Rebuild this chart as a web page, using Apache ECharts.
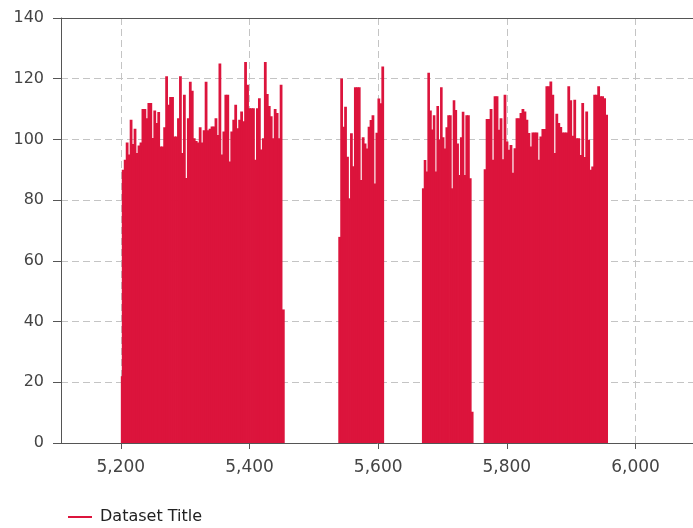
<!DOCTYPE html>
<html>
<head>
<meta charset="utf-8">
<script src="https://cdn.jsdelivr.net/npm/echarts@6/dist/echarts.min.js"></script>
<style>
  html, body { margin: 0; padding: 0; background: #fff; overflow: hidden; }
  #chart { width: 693px; height: 528px; }
</style>
</head>
<body>
<div id="chart"></div>
<script>
// ---- Data ----
const seriesName = 'Dataset Title';

// x-ranges [start, end] of each run of bars; bars are spread evenly inside a run
const leadRange = [5200, 5201.5];
const leadValues = [22];

const seg1Range = [5201.5, 5450];
const seg1Values = [90, 93.3, 99, 95, 106.5, 98.5, 103.5, 95.5, 98, 99,
  110, 110, 107, 112, 112, 100.5, 109.5, 105.4, 109, 97.7,
  97.7, 104, 120.8, 111.4, 114, 114, 101, 101, 107, 120.8,
  95.5, 114.7, 87.3, 107, 119, 116, 100.4, 99.5, 99, 104,
  99, 103, 119, 103, 103.5, 104.3, 104.3, 107, 101.5, 125,
  95, 102.6, 114.7, 114.7, 92.7, 102.6, 106.5, 111.4, 103.7, 106.5,
  109.2, 106, 125.5, 118, 110.3, 110.3, 110.3, 93.3, 110.3, 113.6,
  96.7, 100.4, 125.5, 115, 111, 107.6, 100.4, 110, 108.7, 100.4, 118];

const tail1Range = [5450, 5453.5];
const tail1Values = [44];

const seg2Range = [5538, 5608];
const seg2Values = [67.9, 120.1, 104.2, 110.8, 94.3, 80.6, 102, 91.2, 117.2, 117.2,
  117.2, 86.6, 100.7, 98.7, 97, 104.2, 106.4, 108, 85.5, 102.2,
  113.5, 111.9, 124];

const seg3Range = [5668, 5744];
const seg3Values = [83.9, 93.2, 89.4, 122, 109.5, 103.3, 108, 89.4, 111, 100,
  117.2, 100.7, 97, 104, 108, 108, 83.9, 112.9, 109.7, 98.7,
  88.3, 100.7, 109.1, 88.3, 108, 108, 87.2];

const tail3Range = [5744, 5747];
const tail3Values = [10.3];

const seg4Range = [5764, 5956];
const seg4Values = [90.2, 106.7, 106.7, 110, 93.3, 114.2, 114.2, 103.2, 107, 93.5,
  114.7, 99.3, 96.6, 98.2, 89, 97.1, 107, 107, 108.7, 110,
  109.2, 106.5, 102.1, 97.7, 102.3, 102.3, 102.3, 93.3, 101, 103.4,
  103.4, 117.5, 117.5, 119.1, 114.7, 95.5, 108.5, 105.4, 104.1, 102.3,
  102.3, 102.3, 117.5, 112.9, 101.2, 113.1, 100.4, 100.4, 94.9, 112,
  94.2, 109.2, 99.9, 90, 91.1, 114.7, 114.7, 117.5, 114.2, 114.2,
  113.6, 108.1];

const yTicks = [0, 20, 40, 60, 80, 100, 120, 140];

// ---- Build bar rows [x0, x1, value] ----
function runRows(range, values) {
  const w = (range[1] - range[0]) / values.length;
  return values.map((v, i) => [range[0] + i * w, range[0] + (i + 1) * w, v]);
}
const rows = [].concat(
  runRows(leadRange, leadValues),
  runRows(seg1Range, seg1Values),
  runRows(tail1Range, tail1Values),
  runRows(seg2Range, seg2Values),
  runRows(seg3Range, seg3Values),
  runRows(tail3Range, tail3Values),
  runRows(seg4Range, seg4Values)
);

const barColor = '#DC143C';
const axisColor = '#555';
const labelColor = '#444';
const gridColor = '#c4c4c4';
const fontFamily = 'DejaVu Sans';
const xMin = 5107, xMax = 6108;

const chart = echarts.init(document.getElementById('chart'), null, { renderer: 'canvas' });
chart.setOption({
  animation: false,
  backgroundColor: '#fff',
  grid: {
    left: 61, top: 18, height: 425, width: 644,
    outerBoundsMode: 'none',
    containLabel: false,
    show: false
  },
  legend: {
    data: [{ name: seriesName, icon: 'rect' }],
    left: 63, top: 504,
    itemWidth: 24, itemHeight: 2,
    textStyle: { fontFamily: fontFamily, fontSize: 16, color: '#222', padding: [0, 0, 0, 3] }
  },
  xAxis: [{
    type: 'value',
    min: xMin, max: xMax,
    splitNumber: 5,
    axisLine: { show: true, lineStyle: { color: axisColor } },
    axisTick: { show: true, length: 6, lineStyle: { color: axisColor } },
    axisLabel: {
      showMinLabel: false, showMaxLabel: false,
      margin: 16, color: labelColor, fontFamily: fontFamily, fontSize: 17,
      formatter: v => (v % 200 === 0 ? v.toLocaleString('en-US') : '')
    },
    splitLine: { show: true, lineStyle: { color: gridColor, type: [7, 4], width: 1 } }
  }, {
    type: 'value',
    position: 'top',
    min: xMin, max: xMax,
    axisLine: { show: true, onZero: false, lineStyle: { color: axisColor } },
    axisTick: { show: false },
    axisLabel: { show: false },
    splitLine: { show: false }
  }],
  yAxis: {
    type: 'value',
    min: yTicks[0], max: yTicks[yTicks.length - 1], interval: 20,
    axisLine: { show: true, lineStyle: { color: axisColor } },
    axisTick: { show: true, length: 8, lineStyle: { color: axisColor } },
    axisLabel: { margin: 17, color: labelColor, fontFamily: fontFamily, fontSize: 16 },
    splitLine: { show: true, lineStyle: { color: gridColor, type: [7, 4], width: 1 } }
  },
  series: [{
    name: seriesName,
    type: 'custom',
    xAxisIndex: 0,
    itemStyle: { color: barColor },
    encode: { x: [0, 1], y: 2 },
    data: rows,
    renderItem: function (params, api) {
      const p0 = api.coord([api.value(0), api.value(2)]);
      const p1 = api.coord([api.value(1), 0]);
      return {
        type: 'rect',
        shape: { x: p0[0], y: p0[1], width: p1[0] - p0[0] + 0.8, height: p1[1] - p0[1] },
        style: { fill: barColor }
      };
    }
  }]
});
</script>
</body>
</html>
